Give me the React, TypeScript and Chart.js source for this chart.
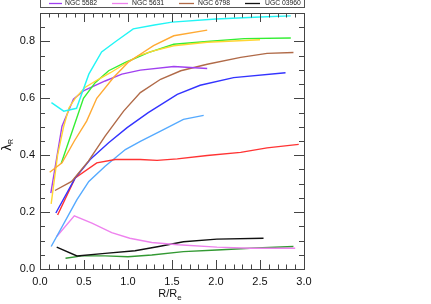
import React, { useEffect, useRef } from "react";
import { Chart, registerables } from "chart.js";

Chart.register(...registerables);

// ---- data ----
const cyanX = [0.13, 0.27, 0.415, 0.555, 0.7, 0.86, 1.06, 1.3, 1.5, 2.0, 2.5, 2.85];
const cyanY = [0.585, 0.555, 0.565, 0.685, 0.763, 0.8, 0.844, 0.858, 0.868, 0.879, 0.886, 0.89];

const orangeX = [0.11, 0.25, 0.39, 0.53, 0.645, 0.835, 1.0, 1.14, 1.29, 1.52, 1.9];
const orangeY = [0.34, 0.373, 0.45, 0.52, 0.6, 0.673, 0.726, 0.755, 0.785, 0.82, 0.84];

const yellowX = [0.127, 0.2, 0.27, 0.33, 0.4, 0.51, 0.665, 0.8, 0.99, 1.12, 1.29, 1.52, 1.9, 2.5];
const yellowY = [0.229, 0.4, 0.502, 0.567, 0.6, 0.638, 0.667, 0.69, 0.726, 0.75, 0.767, 0.785, 0.797, 0.806];

const greenX = [0.24, 0.494, 0.627, 0.78, 0.97, 1.23, 1.52, 1.9, 2.32, 2.85];
const greenY = [0.37, 0.6, 0.655, 0.697, 0.726, 0.761, 0.79, 0.8, 0.81, 0.812];

const n5582X = [0.123, 0.25, 0.38, 0.494, 0.74, 0.93, 1.14, 1.52, 1.9];
const n5582Y = [0.267, 0.502, 0.597, 0.626, 0.661, 0.685, 0.699, 0.712, 0.705];

const n6798X = [0.17, 0.36, 0.55, 0.74, 0.95, 1.14, 1.37, 1.6, 1.9, 2.28, 2.58, 2.88];
const n6798Y = [0.276, 0.308, 0.379, 0.467, 0.555, 0.62, 0.667, 0.697, 0.72, 0.744, 0.758, 0.761];

const blueX = [0.18, 0.4, 0.57, 0.78, 0.99, 1.23, 1.56, 1.82, 2.2, 2.79];
const blueY = [0.197, 0.32, 0.385, 0.444, 0.497, 0.55, 0.614, 0.646, 0.673, 0.69];

const redX = [0.2, 0.4, 0.645, 0.855, 1.14, 1.33, 1.56, 1.9, 2.28, 2.58, 2.94];
const redY = [0.19, 0.32, 0.373, 0.385, 0.385, 0.382, 0.387, 0.399, 0.41, 0.426, 0.438];

const skyX = [0.127, 0.42, 0.555, 0.74, 0.97, 1.14, 1.37, 1.63, 1.86];
const skyY = [0.079, 0.244, 0.308, 0.361, 0.42, 0.449, 0.485, 0.526, 0.54];

const n5631X = [0.19, 0.39, 0.59, 0.815, 1.02, 1.27, 1.57, 2.01, 2.39, 2.9];
const n5631Y = [0.114, 0.187, 0.161, 0.128, 0.108, 0.093, 0.085, 0.077, 0.073, 0.073];

const u03960X = [0.19, 0.42, 0.74, 1.08, 1.35, 1.63, 2.01, 2.54];
const u03960Y = [0.077, 0.046, 0.055, 0.064, 0.079, 0.096, 0.105, 0.108];

const dgreenX = [0.29, 0.475, 0.74, 1.0, 1.27, 1.63, 2.01, 2.39, 2.88];
const dgreenY = [0.038, 0.046, 0.046, 0.043, 0.049, 0.061, 0.067, 0.073, 0.079];

const legendNames = ["NGC 5582", "NGC 5631", "NGC 6798", "UGC 03960"];
const xTicks = [0, 0.5, 1.0, 1.5, 2.0, 2.5, 3.0];
const yTicks = [0, 0.2, 0.4, 0.6, 0.8];

const pts = (xs: number[], ys: number[]) => xs.map((x, i) => ({ x, y: ys[i] }));

const series = [
  { label: "cyan", xs: cyanX, ys: cyanY, color: "#22f5f5" },
  { label: "orange", xs: orangeX, ys: orangeY, color: "#ffaa33" },
  { label: "yellow", xs: yellowX, ys: yellowY, color: "#ffd633" },
  { label: "green", xs: greenX, ys: greenY, color: "#33ee33" },
  { label: legendNames[0], xs: n5582X, ys: n5582Y, color: "#a040f0" },
  { label: legendNames[2], xs: n6798X, ys: n6798Y, color: "#b06a48" },
  { label: "blue", xs: blueX, ys: blueY, color: "#3333ff" },
  { label: "red", xs: redX, ys: redY, color: "#ff3333" },
  { label: "sky", xs: skyX, ys: skyY, color: "#55aaff" },
  { label: legendNames[1], xs: n5631X, ys: n5631Y, color: "#ee82ee" },
  { label: legendNames[3], xs: u03960X, ys: u03960Y, color: "#111111" },
  { label: "darkgreen", xs: dgreenX, ys: dgreenY, color: "#339933" },
];

const legendColors: Record<string, string> = {
  "NGC 5582": "#a040f0",
  "NGC 5631": "#ee82ee",
  "NGC 6798": "#b06a48",
  "UGC 03960": "#111111",
};

const framePlugin = {
  id: "frame",
  afterDraw(chart: any) {
    const { ctx, chartArea: a, scales } = chart;
    const xs = scales.x;
    const ys = scales.y;
    ctx.save();
    ctx.strokeStyle = "#444";
    ctx.lineWidth = 1;
    ctx.strokeRect(a.left + 0.5, a.top + 0.5, a.right - a.left, a.bottom - a.top);
    ctx.beginPath();
    // x ticks
    for (let i = 0; i <= 30; i++) {
      const v = i / 10;
      const px = Math.round(xs.getPixelForValue(v)) + 0.5;
      const len = i % 5 === 0 ? 9 : 4.5;
      ctx.moveTo(px, a.bottom);
      ctx.lineTo(px, a.bottom - len);
      ctx.moveTo(px, a.top);
      ctx.lineTo(px, a.top + len);
    }
    // y ticks
    for (let i = 0; i <= 18; i++) {
      const v = i * 0.05;
      const py = Math.round(ys.getPixelForValue(v)) + 0.5;
      const len = i % 4 === 0 ? 10 : 5;
      ctx.moveTo(a.left, py);
      ctx.lineTo(a.left + len, py);
      ctx.moveTo(a.right, py);
      ctx.lineTo(a.right - len, py);
    }
    ctx.stroke();

    // axis titles
    ctx.fillStyle = "#111";
    ctx.font = "11px 'Liberation Sans', Arial, sans-serif";
    ctx.textBaseline = "alphabetic";
    const main = "R/R";
    const wMain = ctx.measureText(main).width;
    ctx.font = "8px 'Liberation Sans', Arial, sans-serif";
    const wSub = ctx.measureText("e").width;
    const cx = (a.left + a.right) / 2 - 2;
    const startX = cx - (wMain + wSub) / 2;
    ctx.font = "11px 'Liberation Sans', Arial, sans-serif";
    ctx.textAlign = "left";
    ctx.fillText(main, startX, 297);
    ctx.font = "8px 'Liberation Sans', Arial, sans-serif";
    ctx.fillText("e", startX + wMain, 300);

    // y title lambda_R rotated
    ctx.save();
    ctx.translate(11, 145);
    ctx.rotate(-Math.PI / 2);
    ctx.font = "12px 'DejaVu Sans', sans-serif";
    const wl = ctx.measureText("λ").width;
    ctx.font = "7px 'Liberation Sans', Arial, sans-serif";
    const wr = ctx.measureText("R").width;
    const sx = -(wl + wr) / 2;
    ctx.font = "12px 'DejaVu Sans', sans-serif";
    ctx.fillText("λ", sx, 0);
    ctx.font = "7px 'Liberation Sans', Arial, sans-serif";
    ctx.fillText("R", sx + wl, 2);
    ctx.restore();

    // legend box
    ctx.strokeStyle = "#555";
    ctx.strokeRect(a.left + 0.5, -5, a.right - a.left, 12.5);
    const items = [
      { l1: 49, l2: 62, t: 65 },
      { l1: 112, l2: 128, t: 132 },
      { l1: 179, l2: 194, t: 198 },
      { l1: 245, l2: 260, t: 265 },
    ];
    ctx.font = "6.8px 'Liberation Sans', Arial, sans-serif";
    ctx.textBaseline = "middle";
    legendNames.forEach((name, i) => {
      const it = items[i];
      ctx.strokeStyle = legendColors[name];
      ctx.lineWidth = 1.3;
      ctx.beginPath();
      ctx.moveTo(it.l1, 3.5);
      ctx.lineTo(it.l2, 3.5);
      ctx.stroke();
      ctx.fillStyle = "#222";
      ctx.fillText(name, it.t, 3.5);
    });
    ctx.restore();
  },
};

export default function App() {
  const ref = useRef<HTMLCanvasElement>(null);
  useEffect(() => {
    if (!ref.current) return;
    const chart = new Chart(ref.current, {
      type: "line",
      data: {
        datasets: series.map((s) => ({
          label: s.label,
          data: pts(s.xs, s.ys),
          borderColor: s.color,
          backgroundColor: s.color,
          borderWidth: 1.4,
          pointRadius: 0,
          fill: false,
          tension: 0,
        })),
      },
      options: {
        animation: false,
        responsive: false,
        devicePixelRatio: 1,
        layout: { padding: { top: 13, right: 127, left: 0, bottom: 0 } },
        plugins: { legend: { display: false }, tooltip: { enabled: false } },
        scales: {
          x: {
            type: "linear",
            min: 0,
            max: 3,
            grid: { display: false, drawTicks: false },
            border: { display: false },
            afterFit: (s: any) => {
              s.height = 35;
            },
            afterBuildTicks: (s: any) => {
              s.ticks = xTicks.map((v) => ({ value: v }));
            },
            ticks: {
              padding: 6,
              color: "#111",
              maxRotation: 0,
              font: { family: "'Liberation Sans', Arial, sans-serif", size: 11 },
              callback: (v: any) => Number(v).toFixed(1),
            },
          },
          y: {
            type: "linear",
            min: 0,
            max: 0.9,
            grid: { display: false, drawTicks: false },
            border: { display: false },
            afterFit: (s: any) => {
              s.width = 40;
            },
            afterBuildTicks: (s: any) => {
              s.ticks = yTicks.map((v) => ({ value: v }));
            },
            ticks: {
              padding: 5,
              color: "#111",
              font: { family: "'Liberation Sans', Arial, sans-serif", size: 11 },
              callback: (v: any) => Number(v).toFixed(1),
            },
          },
        },
      },
      plugins: [framePlugin],
    } as any);
    return () => chart.destroy();
  }, []);
  return (
    <div style={{ position: "fixed", left: 0, top: 0 }}>
      <canvas ref={ref} width={431} height={304} style={{ width: 431, height: 304 }} />
    </div>
  );
}
